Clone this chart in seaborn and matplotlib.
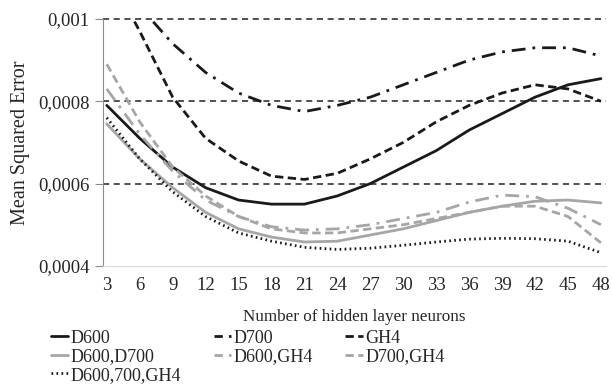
import pandas as pd
import seaborn as sns
import matplotlib.pyplot as plt
from matplotlib.lines import Line2D

neurons = [3, 6, 9, 12, 15, 18, 21, 24, 27, 30, 33, 36, 39, 42, 45, 48]

d600 = [0.00079, 0.00071, 0.00064, 0.00059, 0.00056, 0.00055, 0.00055, 0.00057,
        0.00060, 0.00064, 0.00068, 0.00073, 0.00077, 0.00081, 0.00084, 0.000855]
d700 = [0.00112, 0.00103, 0.00094, 0.00087, 0.00082, 0.00079, 0.000775, 0.00079,
        0.00081, 0.00084, 0.00087, 0.00090, 0.00092, 0.00093, 0.00093, 0.00091]
gh4 = [0.00112, 0.00097, 0.00081, 0.00071, 0.000655, 0.000618, 0.00061, 0.000625,
       0.00066, 0.00070, 0.00075, 0.00079, 0.00082, 0.00084, 0.00083, 0.00080]
d600_d700 = [0.000745, 0.00066, 0.00059, 0.00053, 0.00049, 0.00047, 0.000458, 0.00046,
             0.000475, 0.00049, 0.00051, 0.00053, 0.000545, 0.000557, 0.00056, 0.000553]
d600_gh4 = [0.00083, 0.00072, 0.00063, 0.00056, 0.00052, 0.000495, 0.000487, 0.00049,
            0.00050, 0.000515, 0.00053, 0.000555, 0.000572, 0.000568, 0.00054, 0.00050]
d700_gh4 = [0.00089, 0.00075, 0.00064, 0.00057, 0.00052, 0.00049, 0.00048, 0.00048,
            0.00049, 0.00050, 0.000515, 0.00053, 0.000545, 0.000545, 0.00052, 0.000456]
d600_700_gh4 = [0.00076, 0.00066, 0.00058, 0.00052, 0.00048, 0.00046, 0.000445, 0.00044,
                0.000443, 0.00045, 0.000458, 0.000465, 0.000467, 0.000466, 0.00046, 0.000432]

series = {
    "D600": d600,
    "D700": d700,
    "GH4": gh4,
    "D600,D700": d600_d700,
    "D600,GH4": d600_gh4,
    "D700,GH4": d700_gh4,
    "D600,700,GH4": d600_700_gh4,
}

rows = []
for name, vals in series.items():
    for n, v in zip(neurons, vals):
        rows.append({"n": n, "mse": v, "model": name})
df = pd.DataFrame(rows)

black = "#1a1a1a"
gray = "#a6a6a6"
palette = {"D600": black, "D700": black, "GH4": black,
           "D600,D700": gray, "D600,GH4": gray, "D700,GH4": gray,
           "D600,700,GH4": black}
dashes = {"D600": "", "D700": (5, 2.5, 1, 2.5), "GH4": (3, 1.6),
          "D600,D700": "", "D600,GH4": (5, 2.5, 1, 2.5), "D700,GH4": (3, 1.6),
          "D600,700,GH4": (0.6, 1.2)}
# shorter patterns so the pattern shows in the small legend handles
legend_dashes = {"D600": "", "D700": (3, 2.2, 1, 2), "GH4": (3, 1.6),
                 "D600,D700": "", "D600,GH4": (3, 2.2, 1, 2), "D700,GH4": (3, 1.6),
                 "D600,700,GH4": (0.6, 1.2)}

sns.set_style("white")
plt.rcParams["font.family"] = ["Liberation Serif", "DejaVu Serif"]

fig = plt.figure(figsize=(6.12, 3.87), dpi=100)
ax = fig.add_axes([0.168, 0.313, 0.822, 0.638])

sns.lineplot(data=df, x="n", y="mse", hue="model", style="model",
             palette=palette, dashes=dashes, linewidth=2, ax=ax, legend=False)

ax.set_ylim(0.0004, 0.001)
ax.set_xlim(2.64, 48.45)
ax.set_xticks(neurons)
ax.set_yticks([0.0004, 0.0006, 0.0008, 0.001])
ax.set_yticklabels(["0,0004", "0,0006", "0,0008", "0,001"])
for y in [0.0006, 0.0008, 0.001]:
    ax.axhline(y, color="#222222", lw=1.1, ls=(0, (4, 3)), zorder=0, clip_on=False)

for s in ["top", "right"]:
    ax.spines[s].set_visible(False)
ax.spines["left"].set_color("#8c8c8c")
ax.spines["bottom"].set_color("#d9d9d9")
ax.tick_params(axis="y", length=6, color="#8c8c8c", labelsize=13.5, left=True)
ax.tick_params(axis="x", length=0, labelsize=13.5, pad=8)

ax.set_xlabel("Number of hidden layer neurons", fontsize=12.3, labelpad=11)
ax.set_ylabel("Mean Squared Error", fontsize=14.5, labelpad=6)

order = ["D600", "D600,D700", "D600,700,GH4", "D700", "D600,GH4", "GH4", "D700,GH4"]
handles = []
for name in order:
    ls = "-" if legend_dashes[name] == "" else (0, legend_dashes[name])
    handles.append(Line2D([], [], color=palette[name], lw=2, ls=ls))
fig.legend(handles, order, ncol=3, loc="upper left", bbox_to_anchor=(0.083, 0.148),
           frameon=False, fontsize=13, handlelength=0.95, handletextpad=0.15,
           columnspacing=1.8, labelspacing=0.08, borderaxespad=0, borderpad=0)

fig.savefig("out.png", dpi=100)
